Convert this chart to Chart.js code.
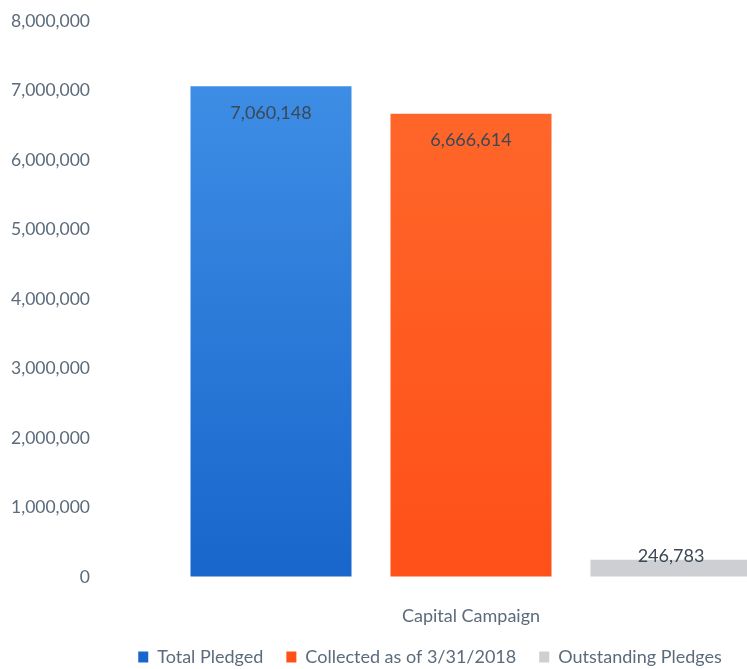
<!DOCTYPE html>
<html>
<head>
<meta charset="utf-8">
<script src="https://cdn.jsdelivr.net/npm/chart.js@4.4.0/dist/chart.umd.min.js"></script>
<style>
  html, body { margin: 0; padding: 0; background: #fff; overflow: hidden; }
  #wrap { width: 747px; height: 669px; overflow: hidden; }
  #box { width: 850px; height: 669px; }
</style>
</head>
<body>
<div id="wrap"><div id="box"><canvas id="chart"></canvas></div></div>
<script>
const categories = ['Capital Campaign'];
const seriesNames = ['Total Pledged', 'Collected as of 3/31/2018', 'Outstanding Pledges'];
const totalPledged = [7060148];
const collected = [6666614];
const outstanding = [246783];
const yTicks = [0, 1000000, 2000000, 3000000, 4000000, 5000000, 6000000, 7000000, 8000000];

const FONT = 'Lato, "Open Sans", sans-serif';
const textColor = '#5b6b7c';

const fmt = v => v.toLocaleString('en-US');

// vertical shading like the scanned original
function shade(top, bottom) {
    return c => {
        const area = c.chart.chartArea;
        if (!area) return bottom;
        const g = c.chart.ctx.createLinearGradient(0, area.top, 0, area.bottom);
        g.addColorStop(0, top);
        g.addColorStop(1, bottom);
        return g;
    };
}

// value labels: inside the top of tall bars, above short ones
const valueLabels = {
    id: 'valueLabels',
    afterDatasetsDraw(chart) {
        const ctx = chart.ctx;
        ctx.save();
        ctx.font = '18px ' + FONT;
        ctx.fillStyle = '#3b4856';
        ctx.textAlign = 'center';
        chart.data.datasets.forEach((ds, i) => {
            chart.getDatasetMeta(i).data.forEach((bar, j) => {
                const v = ds.data[j];
                const h = bar.base - bar.y;
                if (h > 60) {
                    ctx.textBaseline = 'middle';
                    ctx.fillText(fmt(v), bar.x, bar.y + 27);
                } else {
                    ctx.textBaseline = 'bottom';
                    ctx.fillText(fmt(v), bar.x, bar.y + 5);
                }
            });
        });
        ctx.restore();
    }
};

const ctx = document.getElementById('chart').getContext('2d');

const chart = new Chart(ctx, {
    type: 'bar',
    data: {
        labels: categories,
        datasets: [
            { label: seriesNames[0], data: totalPledged, backgroundColor: shade('#4392e8', '#1866cb'), yAxisID: 'y' },
            { label: seriesNames[1], data: collected, backgroundColor: shade('#ff6a2c', '#ff5019'), yAxisID: 'y' },
            { label: seriesNames[2], data: outstanding, backgroundColor: '#cdcfd2', yAxisID: 'y' }
        ]
    },
    options: {
        responsive: true,
        maintainAspectRatio: false,
        animation: false,
        layout: { padding: { left: 10, right: 0, top: 21, bottom: -7 } },
        categoryPercentage: 1,
        barPercentage: 0.805,
        plugins: {
            legend: {
                position: 'bottom',
                labels: {
                    font: { family: FONT, size: 18 },
                    color: textColor,
                    boxWidth: 10,
                    boxHeight: 11,
                    padding: 23
                }
            },
            tooltip: { enabled: false }
        },
        scales: {
            x: {
                grid: { display: false },
                border: { display: false },
                afterFit: axis => { axis.height = 48; },
                ticks: { font: { family: FONT, size: 18 }, color: textColor, padding: 20 }
            },
            y: {
                min: 0,
                max: 8000000,
                afterBuildTicks: axis => { axis.ticks = yTicks.map(v => ({ value: v })); },
                afterFit: axis => { axis.width = 161; },
                grid: { display: true, drawOnChartArea: false, drawTicks: true, tickLength: 75, tickColor: 'rgba(0,0,0,0)' },
                border: { display: false },
                ticks: {
                    font: { family: FONT, size: 17.5 },
                    color: textColor,
                    padding: 6,
                    callback: v => fmt(v)
                }
            },
            // empty right-hand box so the plot and legend sit where the original has them
            y2: {
                position: 'right',
                grid: { display: false },
                border: { display: false },
                ticks: { display: false },
                afterFit: axis => { axis.width = 79; }
            }
        }
    },
    plugins: [valueLabels]
});
</script>
</body>
</html>
